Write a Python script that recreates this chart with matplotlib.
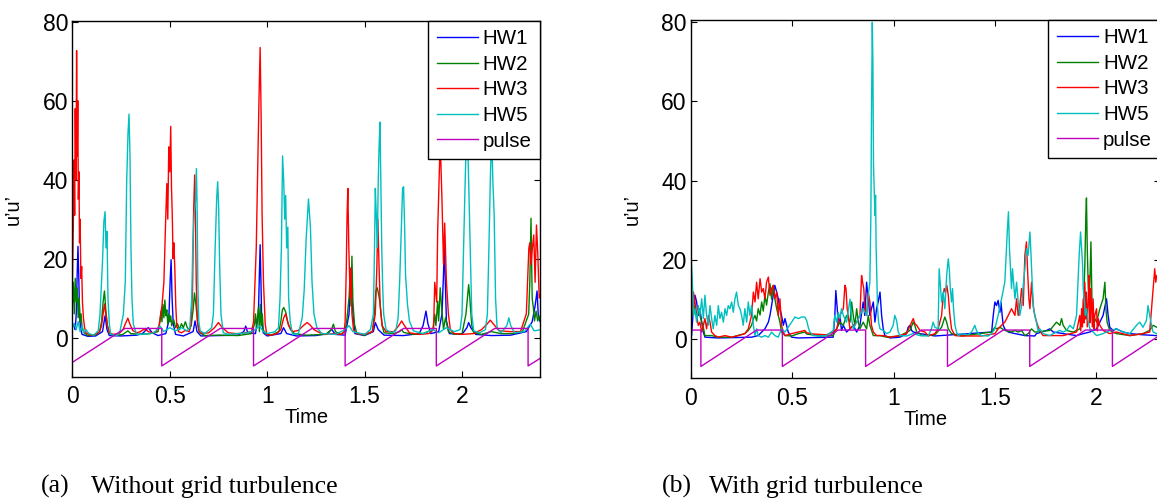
import numpy as np
import matplotlib
matplotlib.use('Agg')
import matplotlib.pyplot as plt

plt.rcParams['font.family'] = ['Liberation Sans', 'DejaVu Sans']

# traces, (time, u'u') pairs
# (a) without grid turbulence
a_hw1 = [(0.000, 2.5), (0.01, 3.5), (0.015, 2), (0.02, 5.9), (0.025, 16), (0.029, 23.1), (0.033, 16), (0.037, 5.9),
         (0.042, 2.5), (0.05, 0.8), (0.08, 0.3), (0.12, 0.4), (0.155, 1.5), (0.168, 5.5), (0.178, 2), (0.19, 0.5),
         (0.25, 0.4), (0.33, 0.6), (0.36, 1), (0.39, 2.5), (0.41, 1.2), (0.44, 0.5), (0.48, 1), (0.495, 4.2),
         (0.502, 14.3), (0.507, 19.7), (0.512, 10), (0.518, 3.4), (0.53, 0.8), (0.57, 0.4), (0.62, 1.5), (0.63, 4.2),
         (0.64, 1.5), (0.66, 0.4), (0.75, 0.5), (0.85, 0.6), (0.88, 1.5), (0.89, 2.9), (0.90, 1.2), (0.94, 1),
         (0.955, 5.9), (0.96, 16), (0.964, 23.5), (0.968, 14.3), (0.972, 4.2), (0.98, 1.2), (1.00, 0.4), (1.07, 1),
         (1.084, 2.5), (1.10, 1), (1.15, 0.4), (1.25, 0.5), (1.31, 1), (1.33, 2.1), (1.35, 0.8), (1.40, 0.6),
         (1.42, 5.9), (1.43, 17.6), (1.438, 7.6), (1.45, 1), (1.50, 0.5), (1.545, 1.5), (1.555, 3.8), (1.57, 2),
         (1.60, 0.6), (1.70, 0.5), (1.78, 1), (1.80, 3), (1.815, 6.7), (1.825, 3.5), (1.84, 1), (1.88, 1.5),
         (1.897, 5.9), (1.905, 16), (1.909, 24.8), (1.914, 14.3), (1.92, 4.2), (1.935, 1), (2.00, 0.8), (2.025, 2.5),
         (2.034, 3.8), (2.045, 2.5), (2.07, 0.8), (2.15, 0.5), (2.25, 0.6), (2.33, 1.5), (2.36, 4), (2.375, 8),
         (2.385, 11.8), (2.392, 5), (2.41, 3)]
a_hw2 = [(0.000, 8), (0.005, 14), (0.01, 6), (0.015, 15), (0.02, 9), (0.025, 12.6), (0.03, 5), (0.035, 10),
         (0.04, 4), (0.045, 6), (0.05, 2.5), (0.06, 1.2), (0.08, 0.5), (0.12, 0.6), (0.14, 1.5), (0.15, 4),
         (0.158, 9), (0.165, 11.8), (0.172, 7), (0.18, 3), (0.19, 1), (0.22, 0.5), (0.26, 0.8), (0.285, 1.7),
         (0.30, 1), (0.35, 0.8), (0.40, 1), (0.44, 1.5), (0.45, 4), (0.455, 6.7), (0.46, 4), (0.465, 8.4),
         (0.47, 5), (0.475, 9.5), (0.48, 5.5), (0.485, 7), (0.49, 3.4), (0.495, 6), (0.50, 4), (0.505, 5.5),
         (0.51, 3), (0.52, 4.5), (0.53, 2.5), (0.54, 3.5), (0.55, 2), (0.56, 3.5), (0.57, 2.5), (0.58, 4),
         (0.59, 2.5), (0.60, 2), (0.61, 3), (0.62, 7), (0.627, 11.3), (0.635, 8), (0.645, 3), (0.655, 1.2),
         (0.68, 0.5), (0.75, 0.6), (0.85, 0.5), (0.92, 1), (0.935, 3.4), (0.94, 6), (0.945, 2.5), (0.95, 5),
         (0.955, 7.6), (0.96, 1.5), (0.965, 8.4), (0.97, 3), (0.975, 6), (0.98, 2), (0.99, 1), (1.02, 0.6),
         (1.06, 1.5), (1.07, 4), (1.078, 7), (1.085, 7.6), (1.095, 6.5), (1.105, 4), (1.12, 2), (1.14, 1),
         (1.20, 0.6), (1.30, 0.8), (1.33, 2), (1.34, 3.4), (1.35, 1.5), (1.38, 0.8), (1.40, 1.5), (1.41, 5),
         (1.42, 10), (1.426, 16), (1.43, 8), (1.435, 20.6), (1.44, 9), (1.448, 3.4), (1.46, 1), (1.50, 0.6),
         (1.54, 1.5), (1.55, 5.9), (1.558, 11.8), (1.565, 12.6), (1.572, 11), (1.58, 8.4), (1.59, 3), (1.60, 1.2),
         (1.65, 1), (1.68, 1.5), (1.69, 2), (1.70, 1.3), (1.75, 0.8), (1.80, 1), (1.85, 2), (1.86, 5.9),
         (1.866, 3), (1.875, 9.2), (1.88, 4.2), (1.888, 12.6), (1.895, 7.6), (1.905, 2.1), (1.915, 5), (1.93, 1.5),
         (1.96, 0.8), (2.00, 1), (2.02, 5.9), (2.034, 13.4), (2.04, 10), (2.05, 3), (2.06, 1.2), (2.10, 0.8),
         (2.15, 1.5), (2.20, 1), (2.26, 1), (2.31, 1.5), (2.342, 5.9), (2.348, 14.3), (2.354, 30.2), (2.360, 10),
         (2.366, 7.6), (2.372, 4.2), (2.380, 6.7), (2.388, 4.2), (2.395, 5.5), (2.41, 3)]
a_hw3 = [(0.000, 12), (0.005, 28), (0.009, 45), (0.012, 31), (0.015, 58), (0.019, 40), (0.022, 72.7), (0.025, 46),
         (0.028, 60), (0.031, 35), (0.034, 42), (0.037, 24), (0.040, 30), (0.044, 15), (0.048, 18), (0.052, 9),
         (0.057, 5), (0.063, 2.5), (0.070, 1.2), (0.085, 0.8), (0.10, 0.6), (0.12, 0.8), (0.14, 1.5), (0.15, 3),
         (0.158, 6), (0.165, 8.5), (0.172, 6), (0.18, 3), (0.19, 1.2), (0.21, 0.8), (0.24, 1), (0.26, 2),
         (0.275, 3.8), (0.285, 4.9), (0.295, 3.5), (0.31, 1.8), (0.33, 1.2), (0.35, 1.5), (0.37, 2.2), (0.39, 1.5),
         (0.41, 1.2), (0.43, 1.5), (0.445, 3), (0.46, 8), (0.47, 14), (0.478, 28), (0.485, 39), (0.49, 30),
         (0.495, 48.3), (0.50, 42), (0.505, 53.5), (0.509, 38), (0.513, 31), (0.517, 20), (0.521, 24),
         (0.526, 17.6), (0.531, 8), (0.536, 3), (0.545, 1.5), (0.56, 1.2), (0.58, 1.8), (0.60, 1.5), (0.61, 3.5),
         (0.617, 12), (0.622, 31), (0.628, 41.2), (0.632, 30), (0.636, 14), (0.642, 4), (0.65, 1.5), (0.67, 1),
         (0.70, 1.2), (0.73, 2.5), (0.75, 3.8), (0.77, 2.5), (0.80, 1.2), (0.84, 1), (0.88, 1.1), (0.92, 1.5),
         (0.93, 4), (0.944, 22.7), (0.953, 48), (0.958, 60.5), (0.964, 73.5), (0.969, 56), (0.974, 31), (0.981, 14),
         (0.99, 3.4), (0.998, 0.8), (1.02, 0.6), (1.05, 1), (1.07, 2), (1.085, 5), (1.095, 6), (1.11, 3),
         (1.13, 1.5), (1.16, 1.8), (1.185, 3), (1.205, 3.8), (1.22, 3.2), (1.24, 2), (1.27, 1.2), (1.30, 0.8),
         (1.34, 1), (1.38, 0.8), (1.395, 1.5), (1.40, 4), (1.406, 17.6), (1.41, 31), (1.414, 37.8), (1.419, 22.7),
         (1.426, 10), (1.43, 17.6), (1.435, 6), (1.443, 2), (1.46, 1), (1.50, 0.8), (1.54, 1.5), (1.555, 6),
         (1.563, 18), (1.568, 30), (1.572, 22), (1.58, 8), (1.59, 3), (1.61, 1.5), (1.65, 1.5), (1.675, 3),
         (1.69, 4.2), (1.705, 3), (1.73, 1.2), (1.78, 0.8), (1.83, 1), (1.854, 2), (1.86, 14), (1.87, 9),
         (1.875, 27), (1.882, 39.5), (1.888, 50), (1.897, 35), (1.905, 18.5), (1.911, 29), (1.92, 14), (1.93, 6),
         (1.94, 2), (1.96, 1), (2.00, 0.8), (2.06, 1), (2.10, 2), (2.13, 3.5), (2.145, 4.4), (2.16, 3.5),
         (2.19, 1.7), (2.25, 1.5), (2.30, 1.5), (2.33, 6), (2.336, 14), (2.343, 22.7), (2.348, 24), (2.354, 18.5),
         (2.361, 22.7), (2.368, 26), (2.375, 14), (2.382, 28.5), (2.389, 21), (2.396, 10), (2.41, 12)]
a_hw5 = [(0.000, 2.5), (0.01, 3.5), (0.02, 2), (0.03, 4), (0.04, 1.5), (0.05, 3), (0.06, 1.2), (0.07, 2),
         (0.085, 1), (0.11, 0.6), (0.133, 1.7), (0.142, 5.9), (0.150, 14.3), (0.155, 19.3), (0.162, 29.4),
         (0.168, 31.9), (0.173, 22.7), (0.178, 26.9), (0.183, 10), (0.19, 3.4), (0.197, 0.8), (0.23, 0.5),
         (0.245, 1.7), (0.262, 5.9), (0.272, 14.3), (0.279, 39.5), (0.286, 52), (0.291, 56.6), (0.296, 46),
         (0.301, 22.7), (0.306, 10), (0.313, 3.4), (0.33, 0.8), (0.37, 0.8), (0.42, 1.2), (0.45, 2.9), (0.47, 1.5),
         (0.50, 2.5), (0.53, 1.7), (0.56, 2.5), (0.59, 1.7), (0.603, 2.5), (0.613, 10), (0.618, 22.7),
         (0.625, 31.1), (0.632, 34.4), (0.637, 42.8), (0.641, 31.1), (0.644, 14.3), (0.649, 4.2), (0.656, 1.7),
         (0.68, 1), (0.715, 2.5), (0.724, 5.9), (0.733, 22.7), (0.741, 35.3), (0.746, 39.5), (0.751, 33),
         (0.756, 18.5), (0.763, 5.9), (0.775, 1.2), (0.80, 0.8), (0.85, 1), (0.90, 1.2), (0.94, 2), (0.96, 3),
         (0.98, 1.5), (1.00, 1), (1.04, 1.5), (1.058, 2.5), (1.066, 10), (1.073, 22.7), (1.079, 46), (1.085, 39.5),
         (1.090, 30), (1.095, 36), (1.100, 22.7), (1.106, 28), (1.11, 10), (1.118, 4.2), (1.13, 0.8), (1.16, 1),
         (1.18, 5), (1.19, 12), (1.20, 25), (1.212, 35.1), (1.222, 28), (1.23, 14.3), (1.24, 6), (1.255, 2.5),
         (1.28, 1), (1.35, 0.8), (1.40, 2), (1.42, 3), (1.44, 1.5), (1.50, 0.8), (1.53, 2), (1.545, 5.9),
         (1.551, 22.7), (1.555, 37.8), (1.560, 31), (1.565, 22.7), (1.570, 39.5), (1.574, 47.9), (1.579, 54.6),
         (1.583, 39.5), (1.588, 22.7), (1.593, 12.6), (1.598, 5.9), (1.61, 2), (1.64, 1.2), (1.66, 1.7),
         (1.672, 5), (1.68, 14.3), (1.688, 26.9), (1.695, 37.8), (1.700, 38.2), (1.706, 26.9), (1.71, 16),
         (1.72, 8.4), (1.73, 4.2), (1.75, 1.7), (1.80, 1), (1.85, 2), (1.88, 1.2), (1.92, 2.5), (1.96, 1.5),
         (1.99, 2), (2.00, 5.9), (2.008, 22.7), (2.016, 39.5), (2.025, 55), (2.03, 48), (2.042, 22.7), (2.05, 5.9),
         (2.06, 1.7), (2.09, 1.2), (2.12, 2), (2.13, 5.9), (2.138, 22.7), (2.145, 39.5), (2.152, 52), (2.158, 40),
         (2.165, 31), (2.172, 10), (2.18, 2.5), (2.2, 1.2), (2.23, 3), (2.24, 5), (2.25, 3), (2.27, 1.2),
         (2.32, 1.5), (2.35, 3.4), (2.37, 1.7), (2.41, 2)]
a_pulse = [(0, -6.3), (0.27, 2.3), (0.459, 2.3), (0.459, -7.2), (0.759, 2.3), (0.93, 2.3), (0.93, -7.2),
           (1.23, 2.3), (1.40, 2.3), (1.40, -7.2), (1.70, 2.3), (1.868, 2.3), (1.868, -7.2), (2.168, 2.3),
           (2.339, 2.3), (2.339, -7.2), (2.41, -5.0)]

# (b) with grid turbulence
b_hw1 = [(0.0, 1), (0.003, 0.8), (0.012, 7.6), (0.020, 11), (0.028, 9.3), (0.036, 5.9), (0.044, 7.6), (0.053, 4.2),
         (0.061, 1.7), (0.069, 0.4), (0.135, 0.2), (0.217, 0.3), (0.299, 0.4), (0.332, 0.8), (0.349, 1.7),
         (0.365, 2.5), (0.382, 4.2), (0.390, 5.9), (0.398, 8.4), (0.406, 11), (0.414, 13.5), (0.423, 11.8),
         (0.431, 10.1), (0.439, 7.6), (0.447, 5.9), (0.456, 3.4), (0.464, 5.1), (0.472, 3.4), (0.480, 1.7),
         (0.497, 0.4), (0.530, 0.2), (0.604, 0.3), (0.702, 0.4), (0.710, 5.9), (0.715, 12.2), (0.722, 7.6),
         (0.727, 3.4), (0.735, 5.9), (0.743, 2.1), (0.752, 3.4), (0.768, 1.7), (0.785, 2.5), (0.801, 3.4),
         (0.818, 1.7), (0.834, 3.4), (0.850, 9.3), (0.858, 5.9), (0.867, 14.3), (0.875, 10.1), (0.883, 5.9),
         (0.891, 7.6), (0.900, 9.3), (0.908, 4.2), (0.916, 7.6), (0.924, 9.3), (0.933, 11.8), (0.941, 5.9),
         (0.949, 2.5), (0.957, 0.8), (0.982, 0.2), (1.031, 0.4), (1.064, 1.3), (1.072, 2.9), (1.081, 3.4),
         (1.089, 2.1), (1.097, 1.7), (1.130, 1.3), (1.204, 0.7), (1.484, 1.7), (1.492, 5.9), (1.500, 9.3),
         (1.508, 8.4), (1.516, 9.7), (1.525, 6.7), (1.530, 9.3), (1.536, 5.9), (1.541, 3.4), (1.549, 2.5),
         (1.566, 1.7), (1.599, 1.3), (1.648, 0.8), (1.697, 0.7), (1.705, 1.3), (1.755, 2.1), (1.771, 2.5),
         (1.788, 1.7), (1.837, 1.3), (1.903, 0.8), (1.936, 1.3), (1.969, 1.7), (2.002, 2.5), (2.018, 4.2),
         (2.034, 5.9), (2.051, 10.1), (2.059, 5.9), (2.067, 2.9), (2.084, 2.1), (2.100, 2.5), (2.116, 2.1),
         (2.133, 1.7), (2.166, 1.3), (2.231, 1), (2.299, 0.8), (2.32, 0.8)]
b_hw2 = [(0.0, 6), (0.003, 7.6), (0.012, 5.9), (0.020, 8.4), (0.028, 5.1), (0.036, 6.7), (0.044, 5.9), (0.053, 4.2),
         (0.061, 2.9), (0.069, 0.8), (0.102, 0.8), (0.135, 0.4), (0.201, 0.4), (0.266, 1.3), (0.283, 2.1),
         (0.299, 3.4), (0.308, 5), (0.316, 5.9), (0.324, 4.5), (0.332, 7.6), (0.341, 6), (0.349, 9.3), (0.357, 7),
         (0.365, 11), (0.373, 8.5), (0.382, 11.8), (0.390, 13.9), (0.398, 10), (0.406, 13.5), (0.414, 10.1),
         (0.423, 7.6), (0.431, 5.9), (0.439, 4.2), (0.447, 1.7), (0.464, 0.8), (0.497, 0.7), (0.530, 1.3),
         (0.562, 1.7), (0.571, 1.2), (0.636, 0.7), (0.702, 0.8), (0.719, 2.5), (0.735, 4.2), (0.752, 3.4),
         (0.768, 5.9), (0.785, 4.2), (0.793, 9.3), (0.801, 5.9), (0.809, 3.4), (0.818, 7.6), (0.826, 4.2),
         (0.834, 2.5), (0.850, 4.2), (0.867, 2.5), (0.875, 5.9), (0.883, 3.4), (0.900, 0.8), (0.933, 0.8),
         (0.966, 0.4), (1.031, 0.7), (1.081, 2.1), (1.097, 4.2), (1.105, 3.4), (1.114, 1.7), (1.130, 1.3),
         (1.138, 0.8), (1.204, 1), (1.237, 2.9), (1.253, 5.5), (1.262, 4.2), (1.270, 2.5), (1.286, 1.3),
         (1.336, 0.7), (1.484, 1.7), (1.500, 2.9), (1.508, 2.5), (1.525, 2.9), (1.549, 2.1), (1.582, 1.7),
         (1.599, 2.1), (1.615, 1.7), (1.632, 2.1), (1.648, 0.8), (1.664, 1.3), (1.681, 2.5), (1.697, 1.7),
         (1.705, 1.7), (1.771, 2.1), (1.804, 4.2), (1.821, 3.4), (1.829, 5.1), (1.837, 3.4), (1.854, 2.1),
         (1.887, 1.7), (1.919, 2.5), (1.936, 5.9), (1.944, 18.6), (1.949, 31.2), (1.952, 35.6), (1.956, 22.8),
         (1.961, 12.7), (1.965, 10.1), (1.969, 14.3), (1.974, 24.5), (1.979, 10.1), (1.985, 5.9), (2.002, 4.2),
         (2.018, 7.6), (2.034, 10.1), (2.043, 14.3), (2.048, 7.6), (2.054, 4.2), (2.067, 2.1), (2.100, 1.3),
         (2.166, 0.8), (2.231, 1.3), (2.264, 2.1), (2.281, 3.4), (2.299, 2.9), (2.32, 3)]
b_hw3 = [(0.0, 4), (0.003, 5.9), (0.012, 11.8), (0.020, 9.3), (0.028, 5.9), (0.036, 3.4), (0.044, 4.2), (0.053, 1.7),
         (0.061, 3.4), (0.069, 5.1), (0.077, 2.5), (0.086, 5.9), (0.094, 4.2), (0.102, 1.7), (0.118, 0.8),
         (0.135, 0.4), (0.168, 0.8), (0.201, 0.4), (0.234, 0.8), (0.266, 1.3), (0.283, 2.5), (0.299, 5.9),
         (0.308, 11.8), (0.316, 9.3), (0.324, 14.3), (0.332, 10.1), (0.341, 15.2), (0.349, 11.8), (0.357, 12.7),
         (0.365, 10.1), (0.373, 14.3), (0.382, 15.6), (0.390, 11), (0.398, 12.7), (0.406, 13.5), (0.414, 10.1),
         (0.423, 11.8), (0.431, 5.9), (0.439, 10.1), (0.447, 3.4), (0.456, 1.7), (0.464, 0.8), (0.497, 1.3),
         (0.530, 1.7), (0.562, 2.1), (0.571, 1.5), (0.604, 1.2), (0.669, 1), (0.702, 1.7), (0.719, 2.5),
         (0.735, 5.9), (0.752, 7.6), (0.760, 13.5), (0.765, 12.7), (0.771, 7.6), (0.785, 2.5), (0.801, 3.4),
         (0.818, 4.2), (0.834, 5.9), (0.842, 16), (0.847, 14.3), (0.853, 12.7), (0.858, 7.6), (0.867, 5.9),
         (0.875, 11.8), (0.883, 9.3), (0.891, 3.4), (0.900, 1.7), (0.916, 0.8), (0.949, 0.8), (0.982, 0.4),
         (1.031, 0.8), (1.064, 1.3), (1.089, 4.2), (1.097, 5.1), (1.105, 3.8), (1.114, 3.4), (1.130, 2.1),
         (1.155, 1.7), (1.171, 0.7), (1.204, 1.3), (1.220, 2.5), (1.237, 5.9), (1.245, 11), (1.250, 12.7),
         (1.257, 11.8), (1.263, 13.5), (1.270, 11), (1.278, 5.9), (1.286, 2.5), (1.303, 0.8), (1.336, 0.7),
         (1.434, 0.7), (1.500, 1.3), (1.516, 2.5), (1.533, 3.4), (1.549, 4.2), (1.566, 5.9), (1.582, 7.6),
         (1.599, 5.9), (1.607, 10.1), (1.615, 5.9), (1.623, 8.4), (1.632, 12.7), (1.640, 8.4), (1.648, 21.1),
         (1.656, 24.5), (1.661, 17.7), (1.668, 10.1), (1.673, 7.6), (1.681, 14.3), (1.689, 8.4), (1.697, 5.9),
         (1.706, 4.2), (1.714, 3), (1.722, 2), (1.738, 0.8), (1.837, 0.8), (1.903, 1.7), (1.912, 4),
         (1.919, 5.9), (1.924, 2), (1.928, 7.6), (1.932, 3), (1.936, 10.1), (1.94, 4), (1.944, 14.3), (1.948, 5),
         (1.952, 11.8), (1.956, 3), (1.961, 9.3), (1.965, 16), (1.969, 4), (1.972, 12.7), (1.977, 8.4), (1.981, 3),
         (1.985, 10.1), (1.989, 2.5), (1.993, 5.9), (2.002, 7.6), (2.006, 2), (2.010, 5.1), (2.018, 3.4),
         (2.034, 2.1), (2.067, 1.3), (2.100, 1.7), (2.166, 0.8), (2.231, 1.3), (2.264, 1.7), (2.281, 12.7),
         (2.289, 17.7), (2.294, 14.3), (2.299, 16), (2.32, 12)]
b_hw5 = [(0.0, 21.9), (0.007, 14.3), (0.013, 5.9), (0.020, 7.6), (0.028, 4.2), (0.036, 8.4), (0.044, 5.9),
         (0.053, 10.1), (0.061, 5.1), (0.069, 11), (0.077, 5.9), (0.086, 3.4), (0.094, 8.4), (0.102, 5.1),
         (0.110, 2.5), (0.118, 5.9), (0.127, 3.4), (0.135, 8.4), (0.143, 5.1), (0.151, 6.7), (0.160, 4.2),
         (0.168, 7.6), (0.176, 5.9), (0.184, 8.4), (0.192, 7.6), (0.201, 9.3), (0.209, 6.7), (0.217, 10.1),
         (0.225, 11.8), (0.234, 8.4), (0.242, 7.6), (0.250, 5.9), (0.258, 3.4), (0.266, 7.6), (0.275, 4.2),
         (0.283, 9.3), (0.291, 5.9), (0.299, 8.4), (0.308, 3.4), (0.316, 0.8), (0.324, 2.5), (0.332, 0.8),
         (0.349, 0.4), (0.365, 0.8), (0.382, 0.4), (0.398, 1.7), (0.414, 0.8), (0.431, 0.4), (0.447, 2.5),
         (0.464, 1.7), (0.480, 2.9), (0.497, 4.2), (0.513, 5.5), (0.530, 5.1), (0.546, 5.5), (0.562, 5.5),
         (0.571, 4.6), (0.579, 2.9), (0.587, 1.7), (0.604, 0.8), (0.636, 0.7), (0.669, 0.8), (0.702, 2.1),
         (0.710, 5.9), (0.719, 4.2), (0.727, 6.7), (0.735, 5.1), (0.743, 7.6), (0.752, 5.9), (0.768, 4.2),
         (0.785, 10), (0.793, 5.1), (0.801, 2.5), (0.818, 4.2), (0.834, 5.9), (0.850, 7.6), (0.867, 5.9),
         (0.875, 11), (0.883, 14.3), (0.888, 31.2), (0.891, 56.5), (0.895, 80), (0.898, 69.2), (0.901, 43.9),
         (0.905, 36.3), (0.908, 31.2), (0.911, 36.3), (0.914, 22.8), (0.918, 14.3), (0.921, 7.6), (0.926, 4.2),
         (0.933, 2.5), (0.949, 2.1), (0.966, 1.3), (0.982, 1.7), (0.998, 3.4), (1.006, 5.9), (1.015, 4.6),
         (1.023, 1.7), (1.031, 0.8), (1.064, 0.7), (1.097, 1.3), (1.130, 0.8), (1.171, 0.7), (1.187, 2.5),
         (1.195, 4.2), (1.204, 2.9), (1.220, 2.5), (1.225, 17.7), (1.230, 14.3), (1.237, 9.3), (1.245, 11.8),
         (1.253, 7.6), (1.262, 16), (1.270, 20.2), (1.275, 17.7), (1.280, 12.7), (1.286, 9.3), (1.291, 12.7),
         (1.296, 7.6), (1.303, 3.4), (1.311, 1.7), (1.319, 0.8), (1.336, 1.3), (1.368, 1), (1.385, 1.7),
         (1.393, 2.5), (1.401, 3.4), (1.409, 2.1), (1.418, 1.3), (1.434, 0.8), (1.467, 0.7), (1.484, 1.3),
         (1.500, 2.5), (1.516, 5.9), (1.533, 10.1), (1.549, 14.3), (1.557, 22.8), (1.562, 27.8), (1.567, 32.1),
         (1.572, 22.8), (1.577, 17.7), (1.582, 12.7), (1.587, 17.7), (1.592, 14.3), (1.599, 10.1), (1.607, 14.3),
         (1.615, 9.3), (1.623, 5.9), (1.632, 8.4), (1.640, 13.5), (1.648, 17.7), (1.656, 22.8), (1.664, 21.1),
         (1.673, 27), (1.677, 22.8), (1.684, 14.3), (1.691, 7.6), (1.697, 5.9), (1.705, 4.2), (1.714, 1.7),
         (1.722, 2.5), (1.738, 1.3), (1.771, 0.8), (1.804, 1.7), (1.821, 2.1), (1.837, 1.7), (1.854, 2.1),
         (1.870, 3.4), (1.887, 2.5), (1.903, 5.9), (1.916, 21.1), (1.923, 27), (1.928, 22.8), (1.933, 18.6),
         (1.936, 12.7), (1.941, 10.1), (1.946, 5.9), (1.952, 7.6), (1.961, 4.2), (1.969, 2.5), (1.985, 1.7),
         (2.002, 0.8), (2.034, 1.3), (2.067, 2.1), (2.100, 2.5), (2.133, 1.7), (2.166, 1.3), (2.199, 3.4),
         (2.215, 4.2), (2.231, 2.9), (2.248, 4.6), (2.256, 8.4), (2.264, 5.9), (2.273, 3.4), (2.281, 1.7),
         (2.299, 1.3), (2.32, 1.5)]
b_pulse = [(0, 2.2), (0.049, 2.2), (0.049, -7), (0.324, 2.2), (0.451, 2.2), (0.451, -7), (0.726, 2.2),
           (0.862, 2.2), (0.862, -7), (1.137, 2.2), (1.266, 2.2), (1.266, -7), (1.541, 2.2), (1.672, 2.2),
           (1.672, -7), (1.947, 2.2), (2.08, 2.2), (2.08, -7), (2.32, 1.1)]

labels = ['HW1', 'HW2', 'HW3', 'HW5', 'pulse']
colors = ['#0000ff', '#008000', '#ff0000', '#00bfbf', '#bf00bf']
xticks = [0, 0.5, 1, 1.5, 2]
xticklabels = ['0', '0.5', '1', '1.5', '2']
yticks = [0, 20, 40, 60, 80]

fig = plt.figure(figsize=(11.57, 5.0), dpi=100)
ax_a = fig.add_axes([0.0625, 0.246, 0.4042, 0.712])
ax_b = fig.add_axes([0.5972, 0.2434, 0.4054, 0.7166])


def draw(ax, series, xmax, ytop):
    for s, lab, col in zip(series, labels, colors):
        arr = np.array(s)
        ax.plot(arr[:, 0], arr[:, 1], color=col, lw=1.0, label=lab)
    ax.set_xlim(0, xmax)
    ax.set_ylim(-10, ytop)
    ax.set_xticks(xticks)
    ax.set_xticklabels(xticklabels)
    ax.set_yticks(yticks)
    ax.tick_params(direction='in', top=True, right=True, length=4, width=0.8, labelsize=16.5)
    ax.tick_params(axis='x', pad=6)
    ax.tick_params(axis='y', pad=3)
    for sp in ax.spines.values():
        sp.set_linewidth(1.0)
    ax.set_xlabel('Time', fontsize=14.5, labelpad=0)
    ax.set_ylabel('u\u2019u\u2019', fontsize=14.5)
    ax.yaxis.set_label_coords(-0.105, 0.47)
    leg = ax.legend(loc='upper right', bbox_to_anchor=(1, 1), borderaxespad=0, fontsize=14.8,
                    frameon=True, fancybox=False, edgecolor='black', framealpha=1,
                    handlelength=2.0, handletextpad=0.25, labelspacing=0.32, borderpad=0.4)
    leg.get_frame().set_linewidth(1.0)


draw(ax_a, [a_hw1, a_hw2, a_hw3, a_hw5, a_pulse], 2.40, 80.2)
draw(ax_b, [b_hw1, b_hw2, b_hw3, b_hw5, b_pulse], 2.315, 80.6)

cap = dict(fontsize=18.5, family='Liberation Serif', va='baseline')
fig.text(40.7 / 1157, 7 / 500, '(a)', **cap)
fig.text(90.7 / 1157, 7 / 500, 'Without grid turbulence', **cap)
fig.text(661.7 / 1157, 7 / 500, '(b)', **cap)
fig.text(709.3 / 1157, 7 / 500, 'With grid turbulence', **cap)

fig.savefig('out.png', dpi=100)
